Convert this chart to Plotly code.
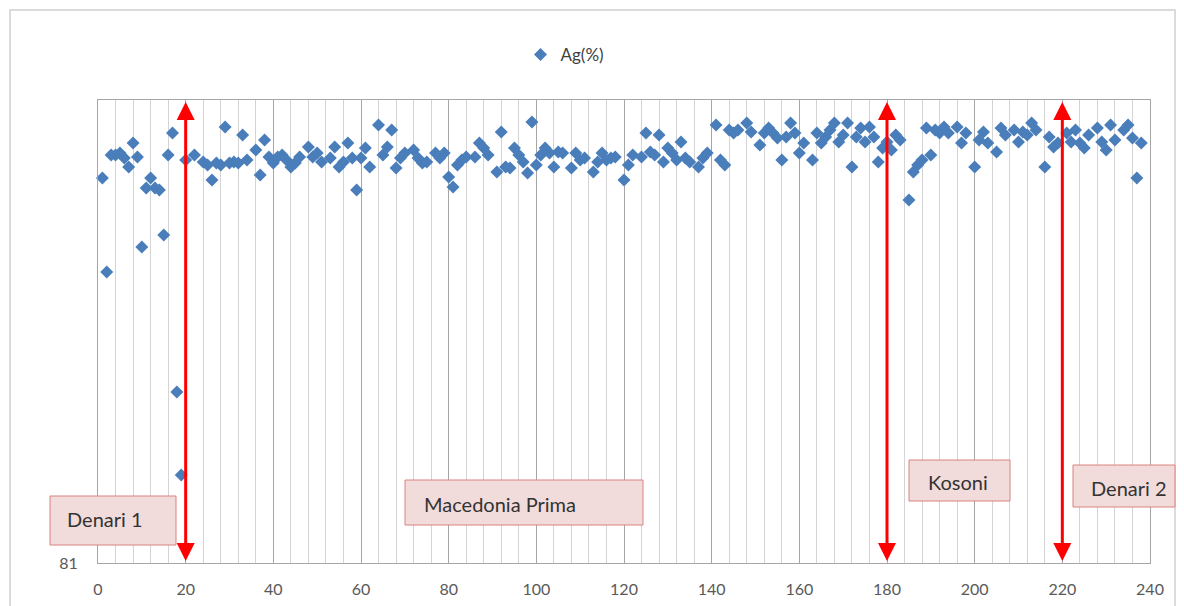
import plotly.graph_objects as go

# Sample index (x) and silver content Ag(%) (y)
sample_idx = [
    1, 2, 3, 4, 5, 6, 7, 8, 9, 10, 11, 12, 13, 14, 15, 16, 17, 18, 19, 20,
    22, 24, 25, 26, 27, 28, 29, 30, 31, 32, 33, 34, 36, 37, 38, 39, 40,
    41, 42, 43, 44, 45, 46, 48, 49, 50, 51, 53, 54, 55, 56, 57, 58, 59, 60,
    61, 62, 64, 65, 66, 67, 68, 69, 70, 72, 73, 74, 75, 77, 78, 79, 80,
    81, 82, 83, 84, 86, 87, 88, 89, 91, 92, 93, 94, 95, 96, 97, 98, 99, 100,
    101, 102, 103, 104, 105, 106, 108, 109, 110, 111, 113, 114, 115, 116, 117, 118, 120,
    121, 122, 124, 125, 126, 127, 128, 129, 130, 131, 132, 133, 134, 135, 137, 138, 139,
    141, 142, 143, 144, 145, 146, 148, 149, 151, 152, 153, 154, 155, 156, 157, 158, 159, 160,
    161, 163, 164, 165, 166, 167, 168, 169, 170, 171, 172, 173, 174, 175, 176, 177, 178, 179, 180,
    181, 182, 183, 185, 186, 187, 188, 189, 190, 191, 192, 193, 194, 196, 197, 198, 200,
    201, 202, 203, 205, 206, 207, 209, 210, 211, 212, 213, 214, 216, 217, 218, 219,
    221, 222, 223, 224, 225, 226, 228, 229, 230, 231, 232, 234, 235, 236, 237, 238,
]
ag_pct = [
    96.80, 92.94, 97.74, 97.74, 97.82, 97.62, 97.25, 98.24, 97.66, 93.97, 96.39, 96.80, 96.39, 96.31, 94.46, 97.74, 98.65, 88.02, 84.61, 97.54,
    97.74, 97.46, 97.33, 96.72, 97.41, 97.33, 98.89, 97.41, 97.46, 97.41, 98.56, 97.54, 97.95, 96.92, 98.36, 97.66, 97.41,
    97.66, 97.74, 97.54, 97.25, 97.41, 97.66, 98.07, 97.66, 97.82, 97.46, 97.62, 98.07, 97.25, 97.46, 98.24, 97.62, 96.31, 97.62,
    98.03, 97.25, 98.97, 97.74, 98.07, 98.77, 97.21, 97.62, 97.82, 97.95, 97.62, 97.41, 97.46, 97.82, 97.62, 97.82, 96.84,
    96.43, 97.33, 97.54, 97.66, 97.66, 98.24, 98.03, 97.74, 97.05, 98.69, 97.25, 97.21, 98.03, 97.74, 97.46, 97.00, 99.10, 97.33,
    97.74, 98.03, 97.82, 97.25, 97.87, 97.82, 97.21, 97.82, 97.54, 97.62, 97.05, 97.46, 97.82, 97.54, 97.62, 97.66, 96.72,
    97.33, 97.74, 97.66, 98.65, 97.87, 97.74, 98.56, 97.46, 98.03, 97.82, 97.54, 98.28, 97.62, 97.46, 97.25, 97.62, 97.82,
    98.97, 97.54, 97.33, 98.77, 98.65, 98.77, 99.06, 98.69, 98.15, 98.65, 98.85, 98.65, 98.44, 97.54, 98.48, 99.06, 98.65, 97.82,
    98.24, 97.54, 98.65, 98.24, 98.48, 98.77, 99.06, 98.28, 98.56, 99.06, 97.25, 98.48, 98.85, 98.28, 98.89, 98.48, 97.46, 98.03, 98.28,
    97.95, 98.56, 98.36, 95.90, 97.05, 97.33, 97.54, 98.85, 97.74, 98.77, 98.65, 98.89, 98.65, 98.89, 98.24, 98.65, 97.25,
    98.36, 98.69, 98.24, 97.87, 98.85, 98.56, 98.77, 98.28, 98.69, 98.56, 99.06, 98.77, 97.25, 98.48, 98.07, 98.24,
    98.65, 98.28, 98.77, 98.24, 98.03, 98.56, 98.85, 98.28, 97.95, 98.97, 98.36, 98.77, 98.97, 98.44, 96.80, 98.24,
]

x_ticks = [0, 20, 40, 60, 80, 100, 120, 140, 160, 180, 200, 220, 240]
y_ticks = [81]
boundary_x = [20, 180, 220]
group_labels = ["Denari 1", "Macedonia Prima", "Kosoni", "Denari 2"]

FONT = "Lato"
# page body has an 8px margin, so the figure is offset by 8px; positions below are in page pixels
W, H = 1168, 598
L, R, T, B = 90, 26, 92, 43
PLOT_X0, PLOT_X1, PLOT_Y0, PLOT_Y1 = 98, 1150, 100, 563  # page pixels


def px(xp):
    return (xp - PLOT_X0) / (PLOT_X1 - PLOT_X0)


def py(yp):
    return (PLOT_Y1 - yp) / (PLOT_Y1 - PLOT_Y0)


fig = go.Figure()
fig.add_trace(go.Scatter(
    x=sample_idx, y=ag_pct, mode="markers", name="Ag(%)",
    marker=dict(symbol="diamond", size=10, color="#4A7EBB", line=dict(width=0)),
    cliponaxis=False,
))

shapes = []
# outer chart border
shapes.append(dict(type="rect", xref="paper", yref="paper",
                   x0=px(10), x1=px(1175), y0=py(612), y1=py(10),
                   line=dict(color="#D0D0D0", width=1.5), fillcolor="rgba(0,0,0,0)", layer="below"))

# label boxes (page-pixel boxes converted to paper coords)
boxes = [
    (50, 176, 496, 545, 65, 519),
    (405, 643, 480, 525, 422, 504),
    (909, 1010, 460, 501, 926, 482),
    (1073, 1175, 465, 507, 1089, 488),
]
annotations = []
for (bx0, bx1, by0, by1, tx, ty), lab in zip(boxes, group_labels):
    shapes.append(dict(type="rect", xref="paper", yref="paper",
                       x0=px(bx0), x1=px(bx1), y0=py(by1), y1=py(by0),
                       line=dict(color="#D9827F", width=1), fillcolor="#F2DCDB", layer="above"))
    annotations.append(dict(xref="paper", yref="paper", x=px(tx), y=py(ty),
                            xanchor="left", yanchor="middle", text=lab, showarrow=False,
                            font=dict(family=FONT, size=20, color="#333333")))

# double-headed red boundary arrows
for bx in boundary_x:
    annotations.append(dict(x=bx, y=99.92, ax=bx, ay=81.02, xref="x", yref="y",
                            axref="x", ayref="y", text="", showarrow=True,
                            arrowside="end+start", arrowhead=2, arrowsize=1.2,
                            arrowwidth=3, arrowcolor="#FF0000", standoff=0, startstandoff=0))

fig.update_layout(
    width=W, height=H,
    margin=dict(l=L, r=R, t=T, b=B, autoexpand=False),
    paper_bgcolor="white", plot_bgcolor="white",
    font=dict(family=FONT, size=16, color="#595959"),
    showlegend=True,
    legend=dict(orientation="h", x=px(565), y=py(55), xanchor="center", yanchor="middle",
                font=dict(family=FONT, size=17, color="#404040"), bgcolor="rgba(0,0,0,0)"),
    shapes=shapes,
    annotations=annotations,
)
fig.update_xaxes(
    range=[0, 240], tickvals=x_ticks, ticktext=[str(v) for v in x_ticks],
    showgrid=True, gridcolor="#A6A6A6", gridwidth=1,
    minor=dict(dtick=4, tick0=0, showgrid=True, gridcolor="#D4D4D4", gridwidth=1),
    showline=True, linecolor="#A6A6A6", linewidth=1, mirror=True,
    ticks="", ticklabelstandoff=12, zeroline=False, automargin=False,
    tickfont=dict(family=FONT, size=16, color="#595959"),
)
fig.update_yaxes(
    range=[81, 100], tickvals=y_ticks, ticktext=[str(v) for v in y_ticks],
    showgrid=False, showline=True, linecolor="#A6A6A6", linewidth=1, mirror=True,
    ticks="", ticklabelstandoff=16, zeroline=False, automargin=False,
    tickfont=dict(family=FONT, size=16, color="#595959"),
)

fig.write_html("out.html")
